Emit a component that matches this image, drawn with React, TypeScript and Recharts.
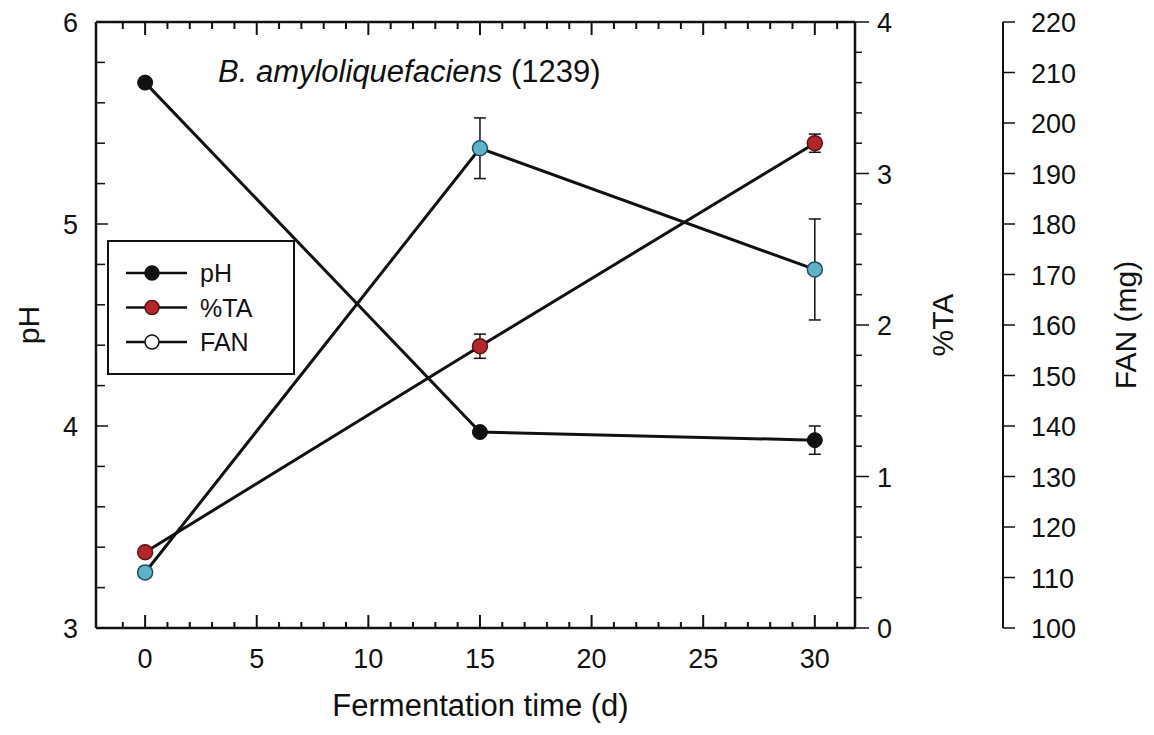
import React from 'react';
import { ComposedChart, Line, XAxis, YAxis, ErrorBar, Legend } from 'recharts';

// values
const days = [0, 15, 30];
const phValues = [5.7, 3.97, 3.93];
const phErrors = [0.02, 0.02, 0.07];
const taValues = [0.5, 1.86, 3.2];
const taErrors = [0.03, 0.08, 0.06];
const fanValues = [111, 195, 171];
const fanErrors = [1, 6, 10];

const seriesNames = ['pH', '%TA', 'FAN'];

// axis tick labels
const dayLabels = [0, 5, 10, 15, 20, 25, 30];
const phLabels = [3, 4, 5, 6];
const taLabels = [0, 1, 2, 3, 4];
const fanTicks = [100, 110, 120, 130, 140, 150, 160, 170, 180, 190, 200, 210, 220];

const range = (start: number, stop: number, step: number) => {
  const out: number[] = [];
  for (let v = start; v <= stop + 1e-9; v += step) out.push(Math.round(v * 100) / 100);
  return out;
};
const dayTicks = range(-1, 31, 1);
const phTicks = range(3, 6, 0.2);
const taTicks = range(0, 4, 0.2);

const rows = days.map((day, i) => ({
  day,
  ph: phValues[i],
  phErr: phErrors[i],
  ta: taValues[i],
  taErr: taErrors[i],
  fan: fanValues[i],
  fanErr: fanErrors[i],
}));

const FONT = '"Liberation Sans", Arial, Helvetica, sans-serif';
const INK = '#111';
const RED = '#b3262a';
const RED_EDGE = '#5a1214';
const CYAN = '#5fb3c9';
const CYAN_EDGE = '#1f4f5f';
const TICK_FONT = 27;
const TITLE_FONT = 30;

const isMajor = (v: number, labels: number[]) => labels.some((l) => Math.abs(l - v) < 1e-6);

function BottomTick(props: any) {
  const { x, y, payload } = props;
  const major = isMajor(payload.value, dayLabels);
  return (
    <g>
      <line x1={x} x2={x} y1={y} y2={y - (major ? 13 : 6)} stroke={INK} strokeWidth={2} />
      {major && (
        <text x={x} y={y + 40} textAnchor="middle" fontSize={TICK_FONT} fontFamily={FONT} fill={INK}>
          {payload.value}
        </text>
      )}
    </g>
  );
}

function TopTick(props: any) {
  const { x, y, payload } = props;
  const major = isMajor(payload.value, dayLabels);
  return <line x1={x} x2={x} y1={y} y2={y + (major ? 13 : 7)} stroke={INK} strokeWidth={2} />;
}

function PhTick(props: any) {
  const { x, y, payload } = props;
  const major = isMajor(payload.value, phLabels);
  return (
    <g>
      <line x1={x} x2={x + (major ? 12 : 9)} y1={y} y2={y} stroke={INK} strokeWidth={1.5} />
      {major && (
        <text x={x - 18} y={y + 10} textAnchor="end" fontSize={TICK_FONT} fontFamily={FONT} fill={INK}>
          {payload.value}
        </text>
      )}
    </g>
  );
}

function TaTick(props: any) {
  const { x, y, payload } = props;
  const major = isMajor(payload.value, taLabels);
  return (
    <g>
      <line x1={x} x2={x + (major ? 14 : 7)} y1={y} y2={y} stroke={INK} strokeWidth={1.5} />
      {major && (
        <text x={x + 22} y={y + 10} textAnchor="start" fontSize={TICK_FONT} fontFamily={FONT} fill={INK}>
          {payload.value}
        </text>
      )}
    </g>
  );
}

function FanTick(props: any) {
  const { x, y, payload } = props;
  return (
    <g>
      <line x1={x} x2={x + 12} y1={y} y2={y} stroke={INK} strokeWidth={1.5} />
      <text x={x + 28} y={y + 10} textAnchor="start" fontSize={TICK_FONT} fontFamily={FONT} fill={INK}>
        {payload.value}
      </text>
    </g>
  );
}

const sideTitle = (text: string, dx: number) => (props: any) => {
  const { viewBox } = props;
  const cx = viewBox.x + dx;
  const cy = viewBox.y + viewBox.height / 2;
  return (
    <text
      x={cx}
      y={cy}
      transform={`rotate(-90 ${cx} ${cy})`}
      textAnchor="middle"
      dominantBaseline="central"
      fontSize={TITLE_FONT}
      fontFamily={FONT}
      fill={INK}
    >
      {text}
    </text>
  );
};

const bottomTitle = (props: any) => {
  const { viewBox } = props;
  return (
    <text
      x={viewBox.x + viewBox.width / 2 + 5}
      y={viewBox.y + 88}
      textAnchor="middle"
      fontSize={31}
      fontFamily={FONT}
      fill={INK}
    >
      Fermentation time (d)
    </text>
  );
};

const chartTitle = (props: any) => {
  const { viewBox } = props;
  return (
    <text x={viewBox.x + 122} y={viewBox.y + viewBox.height + 60} fontSize={31} fontFamily={FONT} fill={INK}>
      <tspan fontStyle="italic">B. amyloliquefaciens</tspan>
      <tspan> (1239)</tspan>
    </text>
  );
};

const legendSwatches = [
  { fill: INK, stroke: INK },
  { fill: RED, stroke: RED_EDGE },
  { fill: '#fff', stroke: INK },
];

function LegendBox() {
  return (
    <div style={{ width: 184, height: 131, border: `2px solid ${INK}`, background: '#fff' }}>
      <svg width={184} height={131}>
        {seriesNames.map((name, i) => {
          const cy = 31 + i * 34.5;
          return (
            <g key={name}>
              <line x1={17} x2={78} y1={cy} y2={cy} stroke={INK} strokeWidth={2.5} />
              <circle cx={43} cy={cy} r={7} fill={legendSwatches[i].fill} stroke={legendSwatches[i].stroke} strokeWidth={1.5} />
              <text x={91} y={cy + 9} fontSize={25} fontFamily={FONT} fill={INK}>
                {name}
              </text>
            </g>
          );
        })}
      </svg>
    </div>
  );
}

export default function App() {
  const axisLine = { stroke: INK, strokeWidth: 2.5 };
  return (
    <div style={{ width: 1146, height: 720 }}>
      <ComposedChart width={1146} height={720} data={rows} margin={{ top: 4, right: 0, bottom: 10, left: 0 }}>
        <XAxis
          xAxisId="bottom"
          type="number"
          dataKey="day"
          orientation="bottom"
          domain={[-2.2, 31.8]}
          allowDataOverflow
          ticks={dayTicks}
          interval={0}
          height={90}
          tickSize={0}
          tickMargin={0}
          tickLine={false}
          axisLine={axisLine}
          tick={<BottomTick />}
          label={{ content: bottomTitle }}
        />
        <XAxis
          xAxisId="top"
          type="number"
          dataKey="day"
          orientation="top"
          domain={[-2.2, 31.8]}
          allowDataOverflow
          ticks={dayTicks}
          interval={0}
          height={10}
          tickSize={0}
          tickMargin={0}
          tickLine={false}
          axisLine={axisLine}
          tick={<TopTick />}
          label={{ content: chartTitle }}
        />
        <YAxis
          yAxisId="a_ph"
          orientation="left"
          domain={[3, 6]}
          allowDataOverflow
          ticks={phTicks}
          interval={0}
          width={88}
          tickSize={0}
          tickMargin={0}
          tickLine={false}
          axisLine={axisLine}
          tick={<PhTick />}
          label={{ content: sideTitle('pH', 20) }}
        />
        <YAxis
          yAxisId="b_ta"
          orientation="right"
          domain={[0, 4]}
          allowDataOverflow
          ticks={taTicks}
          interval={0}
          width={148}
          tickSize={0}
          tickMargin={0}
          tickLine={false}
          axisLine={axisLine}
          tick={<TaTick />}
          label={{ content: sideTitle('%TA', 87) }}
        />
        <YAxis
          yAxisId="c_fan"
          orientation="right"
          domain={[100, 220]}
          allowDataOverflow
          ticks={fanTicks}
          interval={0}
          width={151}
          tickSize={0}
          tickMargin={0}
          tickLine={false}
          axisLine={{ stroke: INK, strokeWidth: 2 }}
          tick={<FanTick />}
          label={{ content: sideTitle('FAN (mg)', 122) }}
        />
        <Legend
          layout="horizontal"
          verticalAlign="middle"
          align="center"
          content={<LegendBox />}
          wrapperStyle={{ position: 'absolute', left: 99, top: 232, width: 188, height: 135 }}
        />
        <Line
          name={seriesNames[2]}
          xAxisId="bottom"
          yAxisId="c_fan"
          dataKey="fan"
          type="linear"
          stroke={INK}
          strokeWidth={3}
          dot={{ r: 7.5, fill: CYAN, stroke: CYAN_EDGE, strokeWidth: 1.5 }}
          activeDot={false}
          isAnimationActive={false}
        >
          <ErrorBar dataKey="fanErr" width={6} stroke={INK} strokeWidth={1.5} direction="y" />
        </Line>
        <Line
          name={seriesNames[1]}
          xAxisId="bottom"
          yAxisId="b_ta"
          dataKey="ta"
          type="linear"
          stroke={INK}
          strokeWidth={3}
          dot={{ r: 7.5, fill: RED, stroke: RED_EDGE, strokeWidth: 1.5 }}
          activeDot={false}
          isAnimationActive={false}
        >
          <ErrorBar dataKey="taErr" width={6} stroke={INK} strokeWidth={1.5} direction="y" />
        </Line>
        <Line
          name={seriesNames[0]}
          xAxisId="bottom"
          yAxisId="a_ph"
          dataKey="ph"
          type="linear"
          stroke={INK}
          strokeWidth={3}
          dot={{ r: 7.5, fill: INK, stroke: INK, strokeWidth: 1 }}
          activeDot={false}
          isAnimationActive={false}
        >
          <ErrorBar dataKey="phErr" width={6} stroke={INK} strokeWidth={1.5} direction="y" />
        </Line>
      </ComposedChart>
    </div>
  );
}
